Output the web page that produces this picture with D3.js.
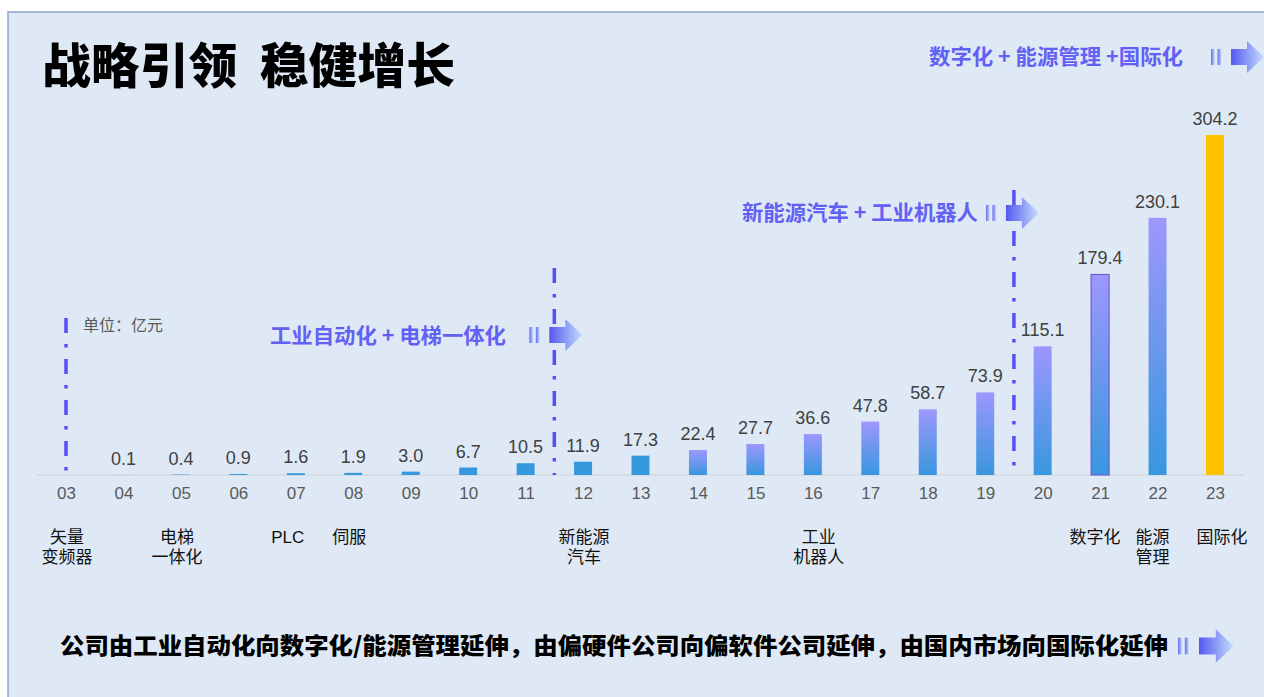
<!DOCTYPE html>
<html>
<head>
<meta charset="utf-8">
<script src="https://cdn.jsdelivr.net/npm/d3@7"></script>
<style>
  body { margin: 0; background: #fff; }
  svg { display: block; }
</style>
</head>
<body>
<svg width="1264" height="697"></svg>
<script>
// datos del grafico
var years = ["03","04","05","06","07","08","09","10","11","12","13","14","15","16","17","18","19","20","21","22","23"];
var revenue = [0, 0.1, 0.4, 0.9, 1.6, 1.9, 3.0, 6.7, 10.5, 11.9, 17.3, 22.4, 27.7, 36.6, 47.8, 58.7, 73.9, 115.1, 179.4, 230.1, 304.2];
var noteYears = ["03", "05", "07", "08", "12", "16", "21", "22", "23"];
var noteTexts = [["矢量","变频器"], ["电梯","一体化"], ["PLC"], ["伺服"], ["新能源","汽车"], ["工业","机器人"], ["数字化"], ["能源","管理"], ["国际化"]];
var phaseTexts = ["工业自动化 + 电梯一体化", "新能源汽车 + 工业机器人", "数字化 + 能源管理 +国际化"];
var title = "战略引领  稳健增长";
var unitText = "单位：亿元";
var footText = "公司由工业自动化向数字化/能源管理延伸，由偏硬件公司向偏软件公司延伸，由国内市场向国际化延伸";

var svg = d3.select("svg"),
    cjk = "'Noto Sans CJK SC', 'Noto Sans', sans-serif",
    num = "'Liberation Sans', Arial, sans-serif",
    narrow = "'Liberation Sans Narrow', 'Liberation Sans', Arial, sans-serif",
    purple = "#6360f4";

// desplazamiento manual de las notas (las cajas de texto del original no estan centradas)
var noteShift = {"03": 1, "05": -4, "07": -8, "08": -4, "12": 1, "16": 6, "21": -5, "22": -5, "23": 7};

// fondo y marco
svg.append("rect").attr("x", 8).attr("y", 12).attr("width", 1264).attr("height", 697)
  .attr("fill", "#dee9f5").attr("stroke", "#8aa6c9").attr("stroke-width", 1.5);

var defs = svg.append("defs");
var gBar = defs.append("linearGradient").attr("id", "gBar").attr("x1", 0).attr("y1", 0).attr("x2", 0).attr("y2", 1);
gBar.append("stop").attr("offset", "0%").attr("stop-color", "#9d97fd");
gBar.append("stop").attr("offset", "100%").attr("stop-color", "#3897df");
var gArrow = defs.append("linearGradient").attr("id", "gArrow");
gArrow.append("stop").attr("offset", "0%").attr("stop-color", "#5558f0");
gArrow.append("stop").attr("offset", "100%").attr("stop-color", "#c4defd");
var gTick = defs.append("linearGradient").attr("id", "gTick");
gTick.append("stop").attr("offset", "0%").attr("stop-color", "#6a6cf2");
gTick.append("stop").attr("offset", "100%").attr("stop-color", "#b4cdfb");

// escalas
var x = d3.scalePoint().domain(years).range([66, 1215]);
var y = d3.scaleLinear().domain([0, 340]).range([475, 95]);
var barW = 18;

// titulo
svg.append("text").attr("x", 42).attr("y", 83)
  .attr("font-family", cjk).attr("font-weight", 900).attr("font-size", 48)
  .attr("fill", "#000").style("white-space", "pre")
  .attr("textLength", 413).attr("lengthAdjust", "spacingAndGlyphs")
  .text(title);

// eje
svg.append("line").attr("x1", 37).attr("x2", 1245).attr("y1", y(0)).attr("y2", y(0))
  .attr("stroke", "#d4d9df").attr("stroke-width", 1.5);

var axis = svg.append("g")
  .attr("transform", "translate(0," + y(0) + ")")
  .call(d3.axisBottom(x).tickSize(0).tickPadding(12));
axis.select(".domain").remove();
axis.selectAll("text").attr("font-family", narrow).attr("font-size", 17).attr("fill", "#595959");

// barras
var data = years.map(function(d, i) { return {year: d, value: revenue[i], i: i}; });
var n = years.length;
svg.append("g").selectAll("rect")
  .data(data.filter(function(d) { return d.value > 0; }))
  .enter().append("rect")
    .attr("x", function(d) { return x(d.year) - barW / 2; })
    .attr("y", function(d) { return y(d.value); })
    .attr("width", barW)
    .attr("height", function(d) { return y(0) - y(d.value); })
    .attr("fill", function(d) {
      if (d.i === n - 1) return "#ffc000";
      if (d.i <= 10) return "#3499dd";
      return "url(#gBar)";
    })
    .attr("stroke", function(d) { return d.year === "21" ? "#7a5bd0" : "none"; })
    .attr("stroke-width", 1.2);

// etiquetas de valores
svg.append("g").selectAll("text")
  .data(data.filter(function(d) { return d.value > 0; }))
  .enter().append("text")
    .attr("x", function(d) { return x(d.year); })
    .attr("y", function(d) { return y(d.value) - 10; })
    .attr("text-anchor", "middle")
    .attr("font-family", num).attr("font-size", 18).attr("fill", "#404040")
    .text(function(d) { return d.value.toFixed(1); });

// notas bajo el eje, una linea por elemento
var noteLines = [];
noteYears.forEach(function(yr, i) {
  noteTexts[i].forEach(function(t, j) { noteLines.push({year: yr, t: t, j: j}); });
});
svg.append("g").selectAll("text")
  .data(noteLines).enter().append("text")
    .attr("x", function(d) { return x(d.year) + noteShift[d.year]; })
    .attr("y", function(d) { return 543 + d.j * 20; })
    .attr("text-anchor", "middle")
    .attr("font-family", function(d) { return d.t === "PLC" ? num : cjk; })
    .attr("font-size", 17).attr("fill", "#111")
    .text(function(d) { return d.t; });

// lineas de fase
var half = x.step() / 2;
var breaks = [
  {x: x("03"), y0: 318, y1: 472},
  {x: x("11") + half, y0: 268, y1: 475},
  {x: x("19") + half, y0: 190, y1: 475}
];
svg.append("g").selectAll("line")
  .data(breaks).enter().append("line")
    .attr("x1", function(d) { return d.x; }).attr("x2", function(d) { return d.x; })
    .attr("y1", function(d) { return d.y0; }).attr("y2", function(d) { return d.y1; })
    .attr("stroke", "#5a4ff5").attr("stroke-width", 3.5)
    .attr("stroke-dasharray", "15,11,3.5,11.5");

svg.append("text").attr("x", 83).attr("y", 331)
  .attr("font-family", cjk).attr("font-size", 16).attr("fill", "#595959")
  .text(unitText);

// flecha con barritas
function arrow(x0, cy, s) {
  var g = svg.append("g").attr("transform", "translate(" + x0 + "," + cy + ") scale(" + s + ")");
  g.append("rect").attr("x", -20).attr("y", -8).attr("width", 3.5).attr("height", 16).attr("fill", "url(#gTick)");
  g.append("rect").attr("x", -13.5).attr("y", -8).attr("width", 3.5).attr("height", 16).attr("fill", "url(#gTick)");
  g.append("path").attr("d", "M0,-8H16V-16L33,0L16,16V8H0Z").attr("fill", "url(#gArrow)");
}

var phasePos = [
  {xs: 270, xe: 506, y: 343, ax: breaks[1].x - 5, ay: 335},
  {xs: 742, xe: 978, y: 220, ax: breaks[2].x - 8, ay: 213},
  {xs: 929, xe: 1183, y: 64, ax: 1231, ay: 57}
];
phaseTexts.forEach(function(t, i) {
  var p = phasePos[i];
  svg.append("text").attr("x", p.xs).attr("y", p.y)
    .attr("font-family", cjk).attr("font-weight", 700).attr("font-size", 21)
    .attr("fill", purple).style("white-space", "pre")
    .attr("textLength", p.xe - p.xs).attr("lengthAdjust", "spacingAndGlyphs")
    .text(t);
  arrow(p.ax, p.ay, 1);
});

// texto inferior
svg.append("text").attr("x", 60).attr("y", 654)
  .attr("font-family", cjk).attr("font-weight", 900).attr("font-size", 23)
  .attr("fill", "#000").attr("textLength", 1108).attr("lengthAdjust", "spacingAndGlyphs")
  .text(footText);
arrow(1199, 646, 1.05);
</script>
</body>
</html>
